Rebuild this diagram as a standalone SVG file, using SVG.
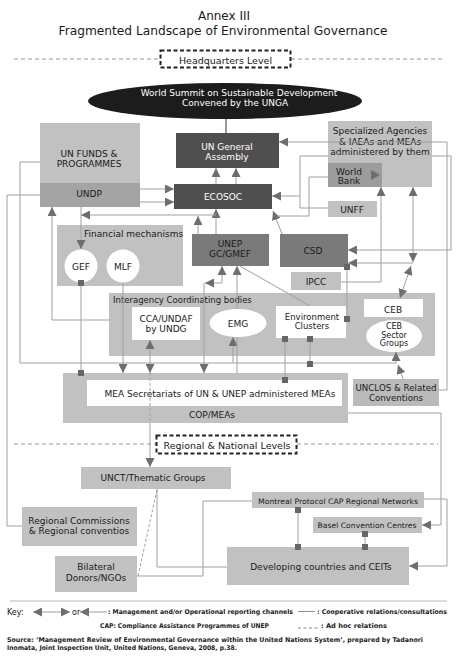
<svg xmlns="http://www.w3.org/2000/svg" width="457" height="667" viewBox="0 0 457 667">
<defs>
<style>
.t{font-family:"DejaVu Sans",Verdana,sans-serif;fill:#1a1a1a;text-anchor:middle;font-size:9px}
.w{fill:#fff}
.lg{fill:#c1c1c1}
.md{fill:#a4a4a4}
.dk{fill:#4f4f4f}
.mk{fill:#7a7a7a}
.wh{fill:#fff}
.c{fill:none;stroke:#a0a0a0;stroke-width:1}
.a{marker-end:url(#ah)}
.ab{marker-start:url(#ah);marker-end:url(#ah)}
.s{marker-start:url(#sq);marker-end:url(#sq)}
.dl{stroke:#999;stroke-width:1;stroke-dasharray:4 3}
.db{fill:#fff;stroke:#222;stroke-width:2;stroke-dasharray:4 2.5}
.k{font-family:"DejaVu Sans",Verdana,sans-serif;fill:#222;font-size:6.5px;font-weight:bold}
</style>
<marker id="ah" viewBox="0 0 10 10" refX="10" refY="5" markerWidth="9" markerHeight="9" markerUnits="userSpaceOnUse" orient="auto-start-reverse"><path d="M0,0L10,5L0,10z" fill="#6e6e6e"/></marker>
<marker id="sq" viewBox="0 0 10 10" refX="5" refY="5" markerWidth="6.5" markerHeight="6.5" markerUnits="userSpaceOnUse" orient="0"><rect width="10" height="10" fill="#666"/></marker>
</defs>
<rect width="457" height="667" fill="#fff"/>

<g id="title">
<text class="t" x="224" y="20" style="font-size:12px">Annex III</text>
<text class="t" x="223" y="35" style="font-size:12px" textLength="329" lengthAdjust="spacingAndGlyphs">Fragmented Landscape of Environmental Governance</text>
</g>

<g id="hq-level">
<line x1="14" y1="59" x2="160" y2="59" class="dl"/>
<line x1="291" y1="59" x2="442" y2="59" class="dl"/>
<rect x="160.5" y="50.5" width="130" height="17" class="db"/>
<text class="t" x="225.5" y="63.5" style="font-size:9.5px">Headquarters Level</text>
</g>

<g id="regional-level">
<line x1="14" y1="444" x2="156" y2="444" class="dl"/>
<line x1="297" y1="444" x2="438" y2="444" class="dl"/>
<rect x="156.5" y="435.5" width="140" height="18" class="db"/>
<text class="t" x="227" y="448.5" style="font-size:9.5px">Regional &amp; National Levels</text>
</g>

<g id="wssd">
<ellipse cx="225" cy="101" rx="137" ry="18" fill="#1c1c1c"/>
<text class="t w" x="239" y="96">World Summit on Sustainable Development</text>
<text class="t w" x="235" y="106">Convened by the UNGA</text>
</g>

<g id="un-funds">
<rect x="40" y="123" width="100" height="60" class="lg"/>
<text class="t" x="89" y="157">UN FUNDS &amp;</text>
<text class="t" x="89" y="167">PROGRAMMES</text>
</g>
<g id="undp">
<rect x="40" y="183" width="100" height="24" class="md"/>
<text class="t" x="89" y="197">UNDP</text>
</g>

<g id="spec-agencies">
<rect x="328" y="121" width="104" height="66" class="lg"/>
<text class="t" x="380" y="134">Specialized Agencies</text>
<text class="t" x="380" y="145">&amp; IAEAs and MEAs</text>
<text class="t" x="380" y="155">administered by them</text>
</g>
<g id="world-bank">
<rect x="328" y="163" width="54" height="24" fill="#9c9c9c"/>
<text class="t" x="349" y="175">World</text>
<text class="t" x="349" y="184">Bank</text>
</g>

<g id="unga">
<rect x="176" y="133" width="103" height="35" class="dk"/>
<text class="t w" x="227" y="150">UN General</text>
<text class="t w" x="227" y="160">Assembly</text>
</g>
<g id="ecosoc">
<rect x="174" y="184" width="98" height="25" class="dk"/>
<text class="t w" x="223" y="200">ECOSOC</text>
</g>
<g id="unff">
<rect x="328" y="201" width="49" height="16" class="lg"/>
<text class="t" x="352" y="213">UNFF</text>
</g>
<g id="unep">
<rect x="192" y="234" width="77" height="32" class="mk"/>
<text class="t" x="230" y="247">UNEP</text>
<text class="t" x="230" y="257">GC/GMEF</text>
</g>
<g id="csd">
<rect x="280" y="234" width="68" height="33" class="mk"/>
<text class="t" x="313" y="254">CSD</text>
</g>
<g id="ipcc">
<rect x="291" y="272" width="50" height="18" class="lg"/>
<text class="t" x="316" y="285">IPCC</text>
</g>

<g id="financial">
<rect x="57" y="225" width="126" height="61" class="lg"/>
<text class="t" x="84" y="237" style="text-anchor:start">Financial mechanisms</text>
</g>
<g id="gef">
<circle cx="81" cy="266" r="16.5" class="wh"/>
<text class="t" x="81" y="270">GEF</text>
</g>
<g id="mlf">
<circle cx="123" cy="266" r="16.5" class="wh"/>
<text class="t" x="123" y="270">MLF</text>
</g>

<g id="interagency">
<rect x="109" y="293" width="326" height="63" class="lg"/>
<text class="t" x="113" y="303" style="text-anchor:start;font-size:8.5px">Interagency Coordinating bodies</text>
</g>
<g id="cca-undaf">
<rect x="132" y="307" width="68" height="33" class="wh"/>
<text class="t" x="166" y="322">CCA/UNDAF</text>
<text class="t" x="166" y="332">by UNDG</text>
</g>
<g id="emg">
<ellipse cx="238" cy="323" rx="28.5" ry="14" class="wh"/>
<text class="t" x="238" y="327">EMG</text>
</g>
<g id="env-clusters">
<rect x="276" y="306" width="70" height="32" class="wh"/>
<text class="t" x="312" y="320" style="font-size:8.5px">Environment</text>
<text class="t" x="312" y="329" style="font-size:8.5px">Clusters</text>
</g>
<g id="ceb">
<rect x="364" y="299" width="59" height="18" class="wh"/>
<text class="t" x="393" y="313">CEB</text>
</g>
<g id="ceb-sector">
<ellipse cx="394" cy="336" rx="28" ry="16" class="wh"/>
<text class="t" x="394" y="329" style="font-size:8px">CEB</text>
<text class="t" x="394" y="338" style="font-size:8px">Sector</text>
<text class="t" x="394" y="346" style="font-size:8px">Groups</text>
</g>

<g id="cop-meas">
<rect x="63" y="373" width="285" height="50" class="lg"/>
<text class="t" x="212" y="418">COP/MEAs</text>
</g>
<g id="mea-secretariats">
<rect x="87" y="380" width="255" height="26" class="wh"/>
<text class="t" x="220" y="397">MEA Secretariats of UN &amp; UNEP administered MEAs</text>
</g>
<g id="unclos">
<rect x="353" y="379" width="86" height="27" fill="#bababa"/>
<text class="t" x="396" y="391" style="font-size:8.7px">UNCLOS &amp; Related</text>
<text class="t" x="396" y="401" style="font-size:8.7px">Conventions</text>
</g>

<g id="unct">
<rect x="81" y="467" width="150" height="22" class="lg"/>
<text class="t" x="153" y="481">UNCT/Thematic Groups</text>
</g>
<g id="regional-commissions">
<rect x="22" y="507" width="115" height="39" class="lg"/>
<text class="t" x="79" y="524">Regional Commissions</text>
<text class="t" x="79" y="534">&amp; Regional conventios</text>
</g>
<g id="bilateral">
<rect x="55" y="556" width="82" height="36" class="lg"/>
<text class="t" x="96" y="570">Bilateral</text>
<text class="t" x="96" y="581">Donors/NGOs</text>
</g>
<g id="montreal">
<rect x="252" y="492" width="172" height="16" class="lg"/>
<text class="t" x="338" y="504" style="font-size:7.5px" textLength="160" lengthAdjust="spacingAndGlyphs">Montreal Protocol CAP Regional Networks</text>
</g>
<g id="basel">
<rect x="313" y="517" width="109" height="16" class="lg"/>
<text class="t" x="367" y="527.5" style="font-size:7.5px" textLength="99" lengthAdjust="spacingAndGlyphs">Basel Convention Centres</text>
</g>
<g id="developing">
<rect x="227" y="547" width="182" height="38" class="lg"/>
<text class="t" x="321" y="570">Developing countries and CEITs</text>
</g>

<g id="connectors">
<line x1="226" y1="119" x2="226" y2="133" stroke="#333" stroke-width="1"/>
<path class="c a" d="M216,184V168"/>
<path class="c a" d="M236,184V168"/>
<path class="c a" d="M140,189H174"/>
<path class="c a" d="M140,202H174"/>
<path class="c a" d="M216,234V209"/>
<path class="c a" d="M198,234V216"/>
<path class="c a" d="M216,215H81"/>
<path class="c a" d="M81,207V249"/>
<path class="c s" d="M81,283V373"/>
<path class="c a" d="M123,283V373"/>
<path class="c a" d="M109,320H52V207"/>
<path class="c a" d="M40,162H20V363H396V352"/>
<path class="c a" d="M233,363V337"/>
<path class="c s" d="M310,339V364"/>
<path class="c s" d="M285,339V380"/>
<path class="c s" d="M347,267V319"/>
<path class="c a" d="M403,379L398,365"/>
<path class="c ab" d="M150,340V373"/>
<path class="c" d="M150,373V423" stroke-dasharray="3 2"/>
<path class="c a" d="M150,423V467"/>
<path class="c a" d="M237,309V266"/>
<path class="c" d="M237,337V373"/>
<path class="c a" d="M222,283V266"/>
<path class="c a" d="M222,283H205"/>
<path class="c a" d="M204,283V373"/>
<path class="c" d="M240,266L310,306"/>
<path class="c a" d="M282,234L273,211"/>
<path class="c" d="M328,177H309V216H277"/>
<path class="c" d="M328,156H300V208H328"/>
<path class="c a" d="M300,196H272"/>
<path class="c a" d="M432,156H451V250H348"/>
<path class="c a" d="M439,390H447V142H279"/>
<path class="c a" d="M341,282H381V187"/>
<path class="c ab" d="M413,187V262"/>
<path class="c a" d="M413,263H348"/>
<path class="c ab" d="M411,266L400,298"/>
<path d="M371,170L380,175L371,180z" fill="#6e6e6e"/>
<path class="c a" d="M348,413H441V525H422"/>
<path class="c" d="M40,195H7V526H22"/>
<path class="c a" d="M424,499H447V566H409"/>
<path class="c" d="M137,576H203V501H252"/>
<path class="c" d="M157,489V567H227"/>
<path class="c" d="M157,490L138,576" stroke="#888" stroke-dasharray="3 2"/>
<path class="c s" d="M298,510V547"/>
<path class="c s" d="M365,534V547"/>
</g>

<g id="key">
<line x1="10" y1="601" x2="447" y2="601" stroke="#cfcfcf" stroke-width="1.5"/>
<text x="7" y="614.5" style="font-family:'DejaVu Sans',Verdana,sans-serif;font-size:8px;fill:#222">Key:</text>
<path class="c ab" d="M33,612H70"/>
<text x="72" y="614.5" style="font-family:'DejaVu Sans',Verdana,sans-serif;font-size:8px;fill:#222">or</text>
<path class="c a" d="M107,612H80"/>
<text class="k" x="108" y="614" textLength="185" lengthAdjust="spacingAndGlyphs">: Management and/or Operational reporting channels</text>
<line x1="298" y1="611.5" x2="315" y2="611.5" stroke="#777" stroke-width="0.8"/>
<text class="k" x="317" y="614" textLength="130" lengthAdjust="spacingAndGlyphs">: Cooperative relations/consultations</text>
<text class="k" x="100" y="628" textLength="169" lengthAdjust="spacingAndGlyphs">CAP: Compliance Assistance Programmes of UNEP</text>
<line x1="298" y1="628" x2="318" y2="628" stroke="#555" stroke-width="0.7" stroke-dasharray="3 2.5"/>
<text class="k" x="321" y="628" textLength="66" lengthAdjust="spacingAndGlyphs">: Ad hoc relations</text>
<text class="k" x="7" y="642" textLength="416" lengthAdjust="spacingAndGlyphs">Source: ‘Management Review of Environmental Governance within the United Nations System’, prepared by Tadanori</text>
<text class="k" x="7" y="649.5" textLength="230" lengthAdjust="spacingAndGlyphs">Inomata, Joint Inspection Unit, United Nations, Geneva, 2008, p.38.</text>
</g>
</svg>
